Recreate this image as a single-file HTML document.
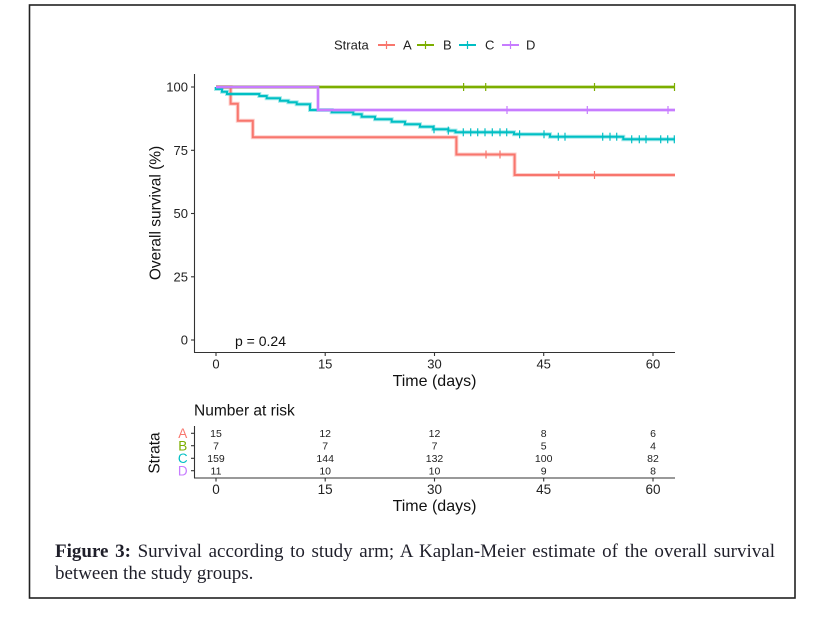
<!DOCTYPE html>
<html>
<head>
<meta charset="utf-8">
<style>
  html, body { margin:0; padding:0; background:#fff; }
  body { width:836px; height:626px; position:relative; overflow:hidden; }
  svg { position:absolute; left:0; top:0; }
  .cap { position:absolute; left:55px; width:720px; font-family:"Liberation Serif", serif; font-size:19px; line-height:22px; color:#1f1f2a; white-space:nowrap; }
  .l1 { top:541px; text-align:justify; text-align-last:justify; }
  .l2 { top:563px; text-align:left; }
</style>
</head>
<body>
<svg width="836" height="626" viewBox="0 0 836 626" xmlns="http://www.w3.org/2000/svg" font-family="Liberation Sans, Arial, sans-serif">
  <!-- outer border -->
  <rect x="29.5" y="5" width="765.5" height="593" fill="none" stroke="#222" stroke-width="1.6"/>

  <!-- Legend -->
  <text x="334" y="49.5" font-size="13" fill="#222">Strata</text>
  <g stroke-width="2">
    <line x1="378" y1="45" x2="395" y2="45" stroke="#F8766D"/>
    <line x1="386.5" y1="41" x2="386.5" y2="49" stroke="#F8766D" stroke-width="1.2"/>
    <line x1="417" y1="45" x2="434" y2="45" stroke="#7CAE00"/>
    <line x1="425.5" y1="41" x2="425.5" y2="49" stroke="#7CAE00" stroke-width="1.2"/>
    <line x1="459" y1="45" x2="476" y2="45" stroke="#00BFC4"/>
    <line x1="467.5" y1="41" x2="467.5" y2="49" stroke="#00BFC4" stroke-width="1.2"/>
    <line x1="502" y1="45" x2="519" y2="45" stroke="#C77CFF"/>
    <line x1="510.5" y1="41" x2="510.5" y2="49" stroke="#C77CFF" stroke-width="1.2"/>
  </g>
  <text x="403" y="49.5" font-size="13" fill="#222">A</text>
  <text x="443" y="49.5" font-size="13" fill="#222">B</text>
  <text x="485" y="49.5" font-size="13" fill="#222">C</text>
  <text x="526" y="49.5" font-size="13" fill="#222">D</text>

  <!-- Main axes -->
  <g stroke="#333" stroke-width="1.1" fill="none">
    <line x1="194.5" y1="74" x2="194.5" y2="352.5"/>
    <line x1="194" y1="352.5" x2="675" y2="352.5"/>
    <line x1="191" y1="87" x2="194.5" y2="87"/>
    <line x1="191" y1="150.3" x2="194.5" y2="150.3"/>
    <line x1="191" y1="213.5" x2="194.5" y2="213.5"/>
    <line x1="191" y1="276.8" x2="194.5" y2="276.8"/>
    <line x1="191" y1="340" x2="194.5" y2="340"/>
    <line x1="216" y1="352.5" x2="216" y2="356"/>
    <line x1="325.2" y1="352.5" x2="325.2" y2="356"/>
    <line x1="434.5" y1="352.5" x2="434.5" y2="356"/>
    <line x1="543.7" y1="352.5" x2="543.7" y2="356"/>
    <line x1="653" y1="352.5" x2="653" y2="356"/>
  </g>
  <g font-size="13" fill="#222" text-anchor="end">
    <text x="188" y="91.5">100</text>
    <text x="188" y="154.8">75</text>
    <text x="188" y="218">50</text>
    <text x="188" y="281.3">25</text>
    <text x="188" y="344.5">0</text>
  </g>
  <g font-size="13" fill="#222" text-anchor="middle">
    <text x="216" y="368.5">0</text>
    <text x="325.2" y="368.5">15</text>
    <text x="434.5" y="368.5">30</text>
    <text x="543.7" y="368.5">45</text>
    <text x="653" y="368.5">60</text>
  </g>
  <text x="434.5" y="386" font-size="16" fill="#111" text-anchor="middle">Time (days)</text>
  <text transform="translate(155,213) rotate(-90)" x="0" y="5.5" font-size="15.5" fill="#111" text-anchor="middle">Overall survival (%)</text>
  <text x="235" y="346" font-size="14" fill="#111">p = 0.24</text>

  <!-- Curves -->
  <g fill="none" stroke-linejoin="miter">
    <!-- A -->
    <path d="M216,87 H230.6 V103.7 H237.8 V120.7 H252.8 V137.3 H456.4 V154.5 H514.6 V175 H675" stroke="#F8766D" stroke-width="4" stroke-opacity="0.35"/>
    <path d="M216,87 H230.6 V103.7 H237.8 V120.7 H252.8 V137.3 H456.4 V154.5 H514.6 V175 H675" stroke="#F8766D" stroke-width="2"/>
    <g stroke="#F8766D" stroke-width="1.2">
      <line x1="486" y1="150.5" x2="486" y2="158.5"/>
      <line x1="500" y1="150.5" x2="500" y2="158.5"/>
      <line x1="558.8" y1="171" x2="558.8" y2="179"/>
      <line x1="594.5" y1="171" x2="594.5" y2="179"/>
    </g>
    <!-- B -->
    <path d="M216,87 H675" stroke="#7CAE00" stroke-width="4" stroke-opacity="0.35"/>
    <path d="M216,87 H675" stroke="#7CAE00" stroke-width="2"/>
    <g stroke="#7CAE00" stroke-width="1.2">
      <line x1="463.6" y1="83" x2="463.6" y2="91"/>
      <line x1="485.7" y1="83" x2="485.7" y2="91"/>
      <line x1="594.5" y1="83" x2="594.5" y2="91"/>
      <line x1="674.5" y1="83" x2="674.5" y2="91"/>
    </g>
    <!-- C -->
    <path d="M216,87 V89 H222 V91.7 H227 V94 H259.3 V96 H266.7 V98.3 H280 V100.7 H288.3 V102.3 H296.7 V104.3 H310 V110 H331.7 V112.3 H353.3 V114.3 H361.7 V116.7 H375 V119.3 H391.7 V121.7 H405 V124.3 H420 V126.7 H433.3 V129.3 H448.3 V130.6 H455.5 V132.3 H514 V134.3 H550 V136.7 H623.3 V139.3 H675" stroke="#00BFC4" stroke-width="4" stroke-opacity="0.35"/>
    <path d="M216,87 V89 H222 V91.7 H227 V94 H259.3 V96 H266.7 V98.3 H280 V100.7 H288.3 V102.3 H296.7 V104.3 H310 V110 H331.7 V112.3 H353.3 V114.3 H361.7 V116.7 H375 V119.3 H391.7 V121.7 H405 V124.3 H420 V126.7 H433.3 V129.3 H448.3 V130.6 H455.5 V132.3 H514 V134.3 H550 V136.7 H623.3 V139.3 H675" stroke="#00BFC4" stroke-width="2"/>
    <g stroke="#00BFC4" stroke-width="1.2">
      <line x1="434" y1="125.3" x2="434" y2="133.3"/>
      <line x1="448.3" y1="126.6" x2="448.3" y2="134.6"/>
      <line x1="463.3" y1="128.3" x2="463.3" y2="136.3"/>
      <line x1="470.7" y1="128.3" x2="470.7" y2="136.3"/>
      <line x1="477.7" y1="128.3" x2="477.7" y2="136.3"/>
      <line x1="485" y1="128.3" x2="485" y2="136.3"/>
      <line x1="492.3" y1="128.3" x2="492.3" y2="136.3"/>
      <line x1="500" y1="128.3" x2="500" y2="136.3"/>
      <line x1="506.7" y1="128.3" x2="506.7" y2="136.3"/>
      <line x1="519.6" y1="130.3" x2="519.6" y2="138.3"/>
      <line x1="544" y1="130.3" x2="544" y2="138.3"/>
      <line x1="558.3" y1="132.7" x2="558.3" y2="140.7"/>
      <line x1="565" y1="132.7" x2="565" y2="140.7"/>
      <line x1="602.7" y1="132.7" x2="602.7" y2="140.7"/>
      <line x1="610" y1="132.7" x2="610" y2="140.7"/>
      <line x1="616.7" y1="132.7" x2="616.7" y2="140.7"/>
      <line x1="631.7" y1="135.3" x2="631.7" y2="143.3"/>
      <line x1="639.3" y1="135.3" x2="639.3" y2="143.3"/>
      <line x1="646" y1="135.3" x2="646" y2="143.3"/>
      <line x1="660.7" y1="135.3" x2="660.7" y2="143.3"/>
      <line x1="667.7" y1="135.3" x2="667.7" y2="143.3"/>
      <line x1="674.3" y1="135.3" x2="674.3" y2="143.3"/>
    </g>
    <!-- D -->
    <path d="M216,87 H318 V110 H675" stroke="#C77CFF" stroke-width="4" stroke-opacity="0.35"/>
    <path d="M216,87 H318 V110 H675" stroke="#C77CFF" stroke-width="2"/>
    <g stroke="#C77CFF" stroke-width="1.2">
      <line x1="507" y1="106" x2="507" y2="114"/>
      <line x1="587.3" y1="106" x2="587.3" y2="114"/>
      <line x1="668" y1="106" x2="668" y2="114"/>
    </g>
  </g>

  <!-- Risk table -->
  <text x="194" y="415.5" font-size="15.5" fill="#111">Number at risk</text>
  <g stroke="#333" stroke-width="1.1" fill="none">
    <line x1="194.5" y1="426" x2="194.5" y2="478"/>
    <line x1="194" y1="478" x2="675" y2="478"/>
    <line x1="191" y1="433.3" x2="194.5" y2="433.3"/>
    <line x1="191" y1="445.7" x2="194.5" y2="445.7"/>
    <line x1="191" y1="458.3" x2="194.5" y2="458.3"/>
    <line x1="191" y1="470.7" x2="194.5" y2="470.7"/>
    <line x1="216" y1="478" x2="216" y2="481.5"/>
    <line x1="325.2" y1="478" x2="325.2" y2="481.5"/>
    <line x1="434.5" y1="478" x2="434.5" y2="481.5"/>
    <line x1="543.7" y1="478" x2="543.7" y2="481.5"/>
    <line x1="653" y1="478" x2="653" y2="481.5"/>
  </g>
  <g font-size="13.5" text-anchor="middle">
    <text x="182.7" y="438" fill="#F8766D">A</text>
    <text x="182.7" y="450.4" fill="#7CAE00">B</text>
    <text x="182.7" y="463" fill="#00BFC4">C</text>
    <text x="182.7" y="475.4" fill="#C77CFF">D</text>
  </g>
  <text transform="translate(154,453) rotate(-90)" x="0" y="5.5" font-size="15.5" fill="#111" text-anchor="middle">Strata</text>
  <g font-size="10.5" fill="#222" text-anchor="middle">
    <text x="216" y="437.1">15</text>
    <text x="325.2" y="437.1">12</text>
    <text x="434.5" y="437.1">12</text>
    <text x="543.7" y="437.1">8</text>
    <text x="653" y="437.1">6</text>
    <text x="216" y="449.5">7</text>
    <text x="325.2" y="449.5">7</text>
    <text x="434.5" y="449.5">7</text>
    <text x="543.7" y="449.5">5</text>
    <text x="653" y="449.5">4</text>
    <text x="216" y="462.1">159</text>
    <text x="325.2" y="462.1">144</text>
    <text x="434.5" y="462.1">132</text>
    <text x="543.7" y="462.1">100</text>
    <text x="653" y="462.1">82</text>
    <text x="216" y="474.5">11</text>
    <text x="325.2" y="474.5">10</text>
    <text x="434.5" y="474.5">10</text>
    <text x="543.7" y="474.5">9</text>
    <text x="653" y="474.5">8</text>
  </g>
  <g font-size="13.5" fill="#222" text-anchor="middle">
    <text x="216" y="494">0</text>
    <text x="325.2" y="494">15</text>
    <text x="434.5" y="494">30</text>
    <text x="543.7" y="494">45</text>
    <text x="653" y="494">60</text>
  </g>
  <text x="434.5" y="511" font-size="16" fill="#111" text-anchor="middle">Time (days)</text>
</svg>
<div class="cap l1"><b>Figure 3:</b> Survival according to study arm; A Kaplan-Meier estimate of the overall survival</div>
<div class="cap l2">between the study groups.</div>
</body>
</html>
